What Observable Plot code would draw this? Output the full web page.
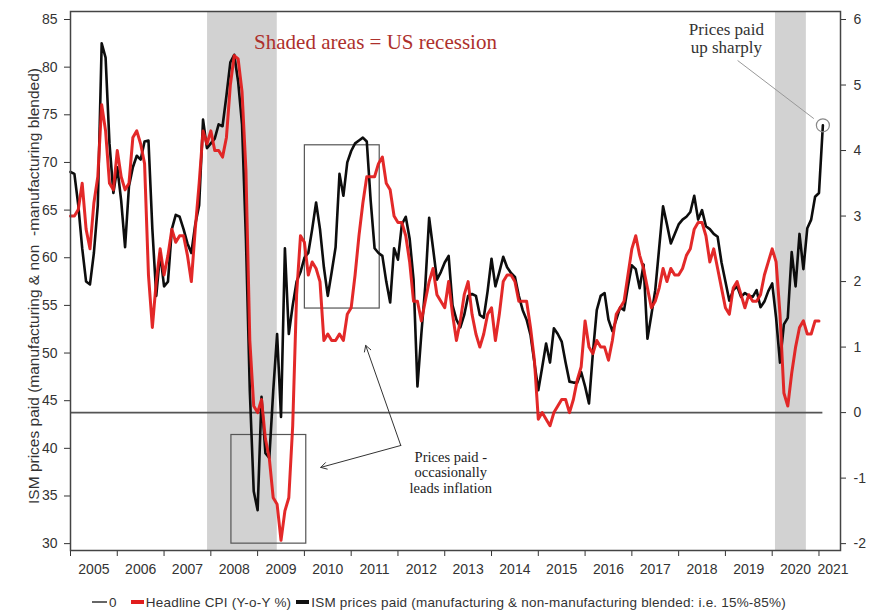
<!DOCTYPE html>
<html><head><meta charset="utf-8">
<script src="https://cdn.jsdelivr.net/npm/d3@7"></script>
<script src="https://cdn.jsdelivr.net/npm/@observablehq/plot@0.6"></script>
<style>
body{margin:0;background:#fff;}
#chart{width:884px;}
.legend{display:flex;justify-content:center;align-items:center;height:20px;margin-top:9px;font:13.5px "Liberation Sans",Arial,sans-serif;color:#333;letter-spacing:0.2px;}
.legend svg{display:block;margin-right:2px;}
.legend .item{display:flex;align-items:center;margin-right:6px;}
</style></head><body><div id="chart"></div>
<script>
// ---- Data (monthly, starting January 2005) ----
const startYear = 2005;

// ISM prices paid, manufacturing & non-manufacturing blended (left axis)
const ismPricesPaid = [
  69.0, 68.8, 65.5, 61.0, 57.5, 57.2, 60.5, 65.5, 82.5, 81.0, 72.0, 66.8, // 2005
  69.5, 66.0, 61.1, 67.5, 69.5, 70.7, 70.3, 72.2, 72.3, 63.0, 56.0, 60.5, // 2006
  57.0, 57.5, 63.0, 64.5, 64.3, 63.0, 61.5, 60.5, 63.5, 65.5, 74.5, 71.5, // 2007
  72.0, 72.5, 74.0, 73.8, 77.0, 80.5, 81.3, 78.5, 74.0, 62.0, 46.0, 35.5, // 2008
  33.5, 45.4, 39.5, 39.0, 46.0, 52.0, 43.3, 61.0, 52.0, 55.0, 57.5, 58.5, // 2009
  60.0, 60.5, 63.0, 65.8, 63.0, 59.0, 56.0, 58.5, 61.1, 68.8, 66.5, 70.0, // 2010
  71.2, 72.0, 72.3, 72.6, 72.2, 66.0, 61.0, 60.5, 60.2, 57.5, 55.3, 61.0, // 2011
  59.8, 63.5, 64.3, 62.0, 57.7, 46.5, 52.0, 57.0, 64.2, 61.0, 57.7, 58.5, // 2012
  59.5, 60.2, 55.0, 53.5, 52.7, 54.0, 56.0, 56.2, 56.0, 54.0, 53.7, 56.5, // 2013
  59.9, 57.0, 58.5, 60.1, 59.0, 58.4, 58.0, 56.0, 54.5, 53.5, 51.9, 49.0, // 2014
  46.1, 48.5, 51.0, 49.0, 52.6, 52.0, 51.2, 49.0, 47.0, 46.9, 46.9, 48.0, // 2015
  46.5, 44.7, 50.0, 54.5, 56.0, 56.3, 53.5, 52.3, 53.5, 54.8, 54.5, 57.0, // 2016
  59.2, 58.8, 56.8, 59.3, 51.5, 54.0, 56.6, 61.0, 65.4, 63.5, 61.5, 62.5, // 2017
  63.5, 64.0, 64.3, 64.8, 66.5, 64.0, 65.0, 63.3, 63.0, 62.5, 62.2, 59.5, // 2018
  57.5, 55.5, 56.6, 57.0, 55.9, 56.3, 56.0, 55.9, 56.6, 54.8, 55.4, 56.5, // 2019
  57.3, 53.7, 49.0, 53.0, 53.7, 60.6, 57.0, 62.5, 58.8, 63.1, 64.0, 66.4, // 2020
  66.8, 73.9                                                              // 2021
];

// Headline CPI, Y-o-Y % (right axis)
const headlineCpi = [
  3.0, 3.0, 3.1, 3.5, 2.8, 2.5, 3.2, 3.6, 4.7, 4.3, 3.5, 3.4,   // 2005
  4.0, 3.6, 3.4, 3.5, 4.2, 4.3, 4.1, 3.8, 2.1, 1.3, 2.0, 2.5,   // 2006
  2.1, 2.4, 2.8, 2.6, 2.7, 2.7, 2.4, 2.0, 2.8, 3.5, 4.3, 4.1,   // 2007
  4.3, 4.0, 4.0, 3.9, 4.2, 5.0, 5.45, 5.4, 4.9, 3.7, 1.1, 0.1,  // 2008
  0.0, 0.2, -0.4, -0.7, -1.3, -1.4, -1.95, -1.5, -1.3, -0.2, 1.8, 2.7, // 2009
  2.6, 2.1, 2.3, 2.2, 2.0, 1.1, 1.2, 1.1, 1.1, 1.2, 1.1, 1.5,   // 2010
  1.6, 2.1, 2.7, 3.2, 3.6, 3.6, 3.6, 3.8, 3.9, 3.5, 3.4, 3.0,   // 2011
  2.9, 2.9, 2.7, 2.3, 1.7, 1.7, 1.4, 1.7, 2.0, 2.2, 1.8, 1.7,   // 2012
  1.6, 2.0, 1.5, 1.1, 1.4, 1.8, 2.0, 1.5, 1.2, 1.0, 1.2, 1.5,   // 2013
  1.6, 1.1, 1.5, 2.0, 2.1, 2.1, 2.0, 1.7, 1.7, 1.7, 1.3, 0.8,   // 2014
  -0.1, 0.0, -0.1, -0.2, 0.0, 0.1, 0.2, 0.2, 0.0, 0.2, 0.5, 0.7, // 2015
  1.4, 1.0, 0.9, 1.1, 1.0, 1.0, 0.8, 1.1, 1.5, 1.6, 1.7, 2.1,   // 2016
  2.5, 2.7, 2.4, 2.2, 1.9, 1.6, 1.7, 1.9, 2.2, 2.0, 2.2, 2.1,   // 2017
  2.1, 2.2, 2.4, 2.5, 2.8, 2.9, 2.9, 2.7, 2.3, 2.5, 2.2, 1.9,   // 2018
  1.6, 1.5, 1.9, 2.0, 1.8, 1.6, 1.8, 1.7, 1.7, 1.8, 2.1, 2.3,   // 2019
  2.5, 2.3, 1.5, 0.3, 0.1, 0.6, 1.0, 1.3, 1.4, 1.2, 1.2, 1.4,   // 2020
  1.4                                                           // 2021
];

// US recessions (decimal years)
const recessionStart = [2007.93, 2020.07];
const recessionEnd   = [2009.42, 2020.73];

// Axis ticks / labels
const leftTicks  = [30, 35, 40, 45, 50, 55, 60, 65, 70, 75, 80, 85];
const rightTicks = [-2, -1, 0, 1, 2, 3, 4, 5, 6];
const yearLabels = [2005, 2006, 2007, 2008, 2009, 2010, 2011, 2012, 2013, 2014, 2015, 2016, 2017, 2018, 2019, 2020, 2021];

// Texts
const yTitle = "ISM prices paid (manufacturing & non  -manufacturing blended)";
const recessionNote = "Shaded areas = US recession";
const leadNote = "Prices paid -\noccasionally\nleads inflation";
const sharpNote = "Prices paid\nup sharply";

// ---- Build ----
// right axis (CPI, -2..6) shares the pixel range of the left axis (ISM, 30..85)
const cpiToIsm = c => 30 + (c + 2) * 55 / 8;
const ismToCpi = v => (v - 30) * 8 / 55 - 2;

const ismData = ismPricesPaid.map((v, i) => ({t: startYear + i / 12, v}));
const cpiData = headlineCpi.map((v, i) => ({t: startYear + i / 12, v}));
const lastIsm = ismData[ismData.length - 1];
const recessions = recessionStart.map((s, i) => ({start: s, end: recessionEnd[i]}));

// annotation geometry (data coordinates)
const boxes = [
  {x1: 2008.44, x2: 2010.04, y1: 30.0, y2: 41.4},
  {x1: 2010.01, x2: 2011.61, y1: 54.67, y2: 71.8}
];
const arrows = [
  {x1: 2012.06, y1: 40.3, x2: 2010.35, y2: 38.0},
  {x1: 2012.06, y1: 40.3, x2: 2011.31, y2: 50.8}
];
const leader = [{x1: 2019.26, y1: 80.7, x2: 2020.89, y2: 74.6}];

const serif = '"Liberation Serif", "DejaVu Serif", serif';

const chart = Plot.plot({
  width: 884,
  height: 583,
  marginLeft: 70,
  marginRight: 44,
  marginTop: 11,
  marginBottom: 33,
  x: {domain: [2005, 2021.46]},
  y: {domain: [29.28, 85.84]},
  style: {fontFamily: '"Liberation Sans", Arial, sans-serif', fontSize: "14px", color: "#333", background: "#fff"},
  marks: [
    Plot.rect(recessions, {x1: "start", x2: "end", fill: "#d2d2d2"}),
    Plot.ruleY([0], {y: d => cpiToIsm(d), x1: startYear, x2: lastIsm.t, stroke: "#555", strokeWidth: 1.6}),
    Plot.rect(boxes, {x1: "x1", x2: "x2", y1: "y1", y2: "y2", fill: "none", stroke: "#555", strokeWidth: 1.2}),
    Plot.lineY(ismData, {x: "t", y: "v", stroke: "#0d0d0d", strokeWidth: 2.6, strokeLinejoin: "round"}),
    Plot.lineY(cpiData, {x: "t", y: d => cpiToIsm(d.v), stroke: "#e11d1d", strokeWidth: 3, strokeLinejoin: "round", strokeOpacity: 0.95}),
    Plot.arrow(arrows, {x1: "x1", y1: "y1", x2: "x2", y2: "y2", stroke: "#333", strokeWidth: 1, headLength: 10}),
    Plot.link(leader, {x1: "x1", y1: "y1", x2: "x2", y2: "y2", stroke: "#999", strokeWidth: 1}),
    Plot.dot([lastIsm], {x: "t", y: "v", r: 6.5, stroke: "#888", strokeWidth: 1.2, fill: "none"}),
    Plot.text([recessionNote], {x: 2011.52, y: 82.6, text: d => d, fontFamily: serif, fontSize: 21, fill: "#ad302c"}),
    Plot.text([leadNote], {x: 2013.13, y: 37.47, text: d => d, fontFamily: serif, fontSize: 14.5, lineHeight: 1.08, fill: "#222"}),
    Plot.text([sharpNote], {x: 2019.02, y: 83.0, text: d => d, fontFamily: serif, fontSize: 17, lineHeight: 1.05, fill: "#333"}),
    Plot.text([yTitle], {frameAnchor: "left", textAnchor: "middle", text: d => d, rotate: -90, dx: -36, dy: 5, fontSize: 15.5, fill: "#333"}),
    Plot.axisY(leftTicks, {anchor: "left", tickSize: 6, tickPadding: 7, label: null}),
    Plot.axisY(rightTicks.map(cpiToIsm), {anchor: "right", tickSize: 5, tickPadding: 8, label: null,
      tickFormat: d => String(Math.round(ismToCpi(d)))}),
    Plot.axisX(yearLabels, {tickSize: 6, tickFormat: () => "", label: null}),
    Plot.axisX(yearLabels.map(y => y === 2021 ? 2021.3 : y + 0.5), {tickSize: 0, tickPadding: 14, label: null,
      tickFormat: d => String(Math.floor(d))}),
    Plot.frame({stroke: "#444", strokeWidth: 1.5})
  ]
});
document.getElementById("chart").appendChild(chart);

// legend below the chart
const legend = document.createElement("div");
legend.className = "legend";
const sw = (color, w, h) => `<svg width="${w}" height="10"><line x1="0" x2="${w}" y1="5" y2="5" stroke="${color}" stroke-width="${h}"/></svg>`;
legend.innerHTML =
  `<span class="item" style="margin-right:14px">${sw("#666", 15, 2)}<span>0</span></span>` +
  `<span class="item" style="margin-right:5px">${sw("#e11d1d", 13, 4)}<span>Headline CPI (Y-o-Y %)</span></span>` +
  `<span class="item">${sw("#111", 13, 4)}<span>ISM prices paid (manufacturing &amp; non-manufacturing blended: i.e. 15%-85%)</span></span>`;
document.getElementById("chart").appendChild(legend);
</script></body></html>
